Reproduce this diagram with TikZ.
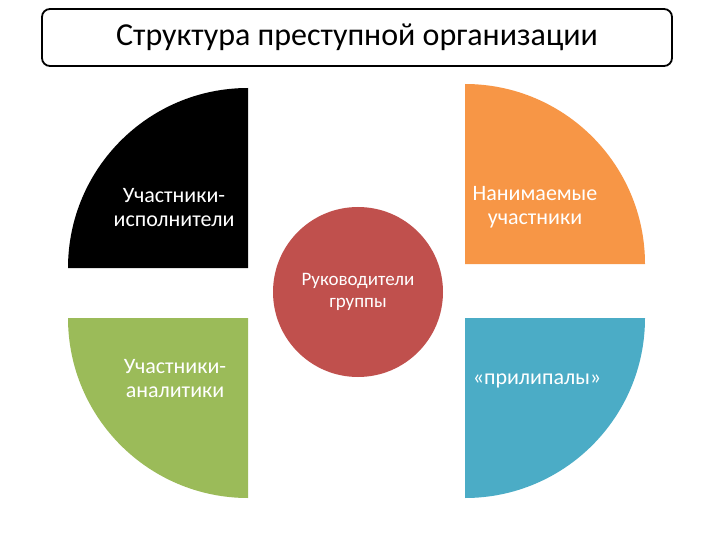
\documentclass[tikz,border=0pt]{standalone}
\usepackage{fontspec}
\setmainfont{Carlito}

\definecolor{qorange}{RGB}{247,150,70}
\definecolor{qgreen}{RGB}{155,187,89}
\definecolor{qblue}{RGB}{75,172,198}
\definecolor{qred}{RGB}{192,80,77}

\tikzset{every picture/.style={line width=0.75pt}}
\tikzset{
  quartertext/.style={text=white, align=center, inner sep=0.75pt, font=\fontsize{22}{24}\selectfont},
}

\begin{document}
\begin{tikzpicture}[x=1pt,y=1pt,yscale=-1]
\useasboundingbox (0,0) rectangle (720,540);

%Shape: Rounded Rectangle [title]
\node (title) [draw, line width=1.8pt, rounded corners=8pt, minimum width=630pt, minimum height=57pt, inner sep=0pt, font=\fontsize{32}{36}\selectfont] at (357,37.5) {Структура преступной организации};

%Shape: Quarter circle [black]
\fill [black] (248,268) -- (248,88) arc [start angle=-90, end angle=-180, radius=180] -- cycle ;
%Shape: Quarter circle [orange]
\fill [qorange] (465,264) -- (465,84) arc [start angle=-90, end angle=0, radius=180] -- cycle ;
%Shape: Quarter circle [green]
\fill [qgreen] (248,318) -- (68,318) arc [start angle=180, end angle=90, radius=180] -- cycle ;
%Shape: Quarter circle [blue]
\fill [qblue] (465,318) -- (645,318) arc [start angle=0, end angle=90, radius=180] -- cycle ;

%Shape: Circle [red]
\node (leaders) [circle, fill=qred, minimum size=170pt, inner sep=0pt, text=white, align=center, font=\fontsize{19}{22}\selectfont] at (358,292) {Руководители\\группы};

% Text Node
\node (executors) [quartertext] at (174,208) {Участники-\\исполнители};
% Text Node
\node (hired) [quartertext] at (535,207) {Нанимаемые\\участники};
% Text Node
\node (analysts) [quartertext] at (175,379) {Участники-\\аналитики};
% Text Node
\node (stickers) [quartertext] at (537,381) {«прилипалы»};
\end{tikzpicture}
\end{document}
